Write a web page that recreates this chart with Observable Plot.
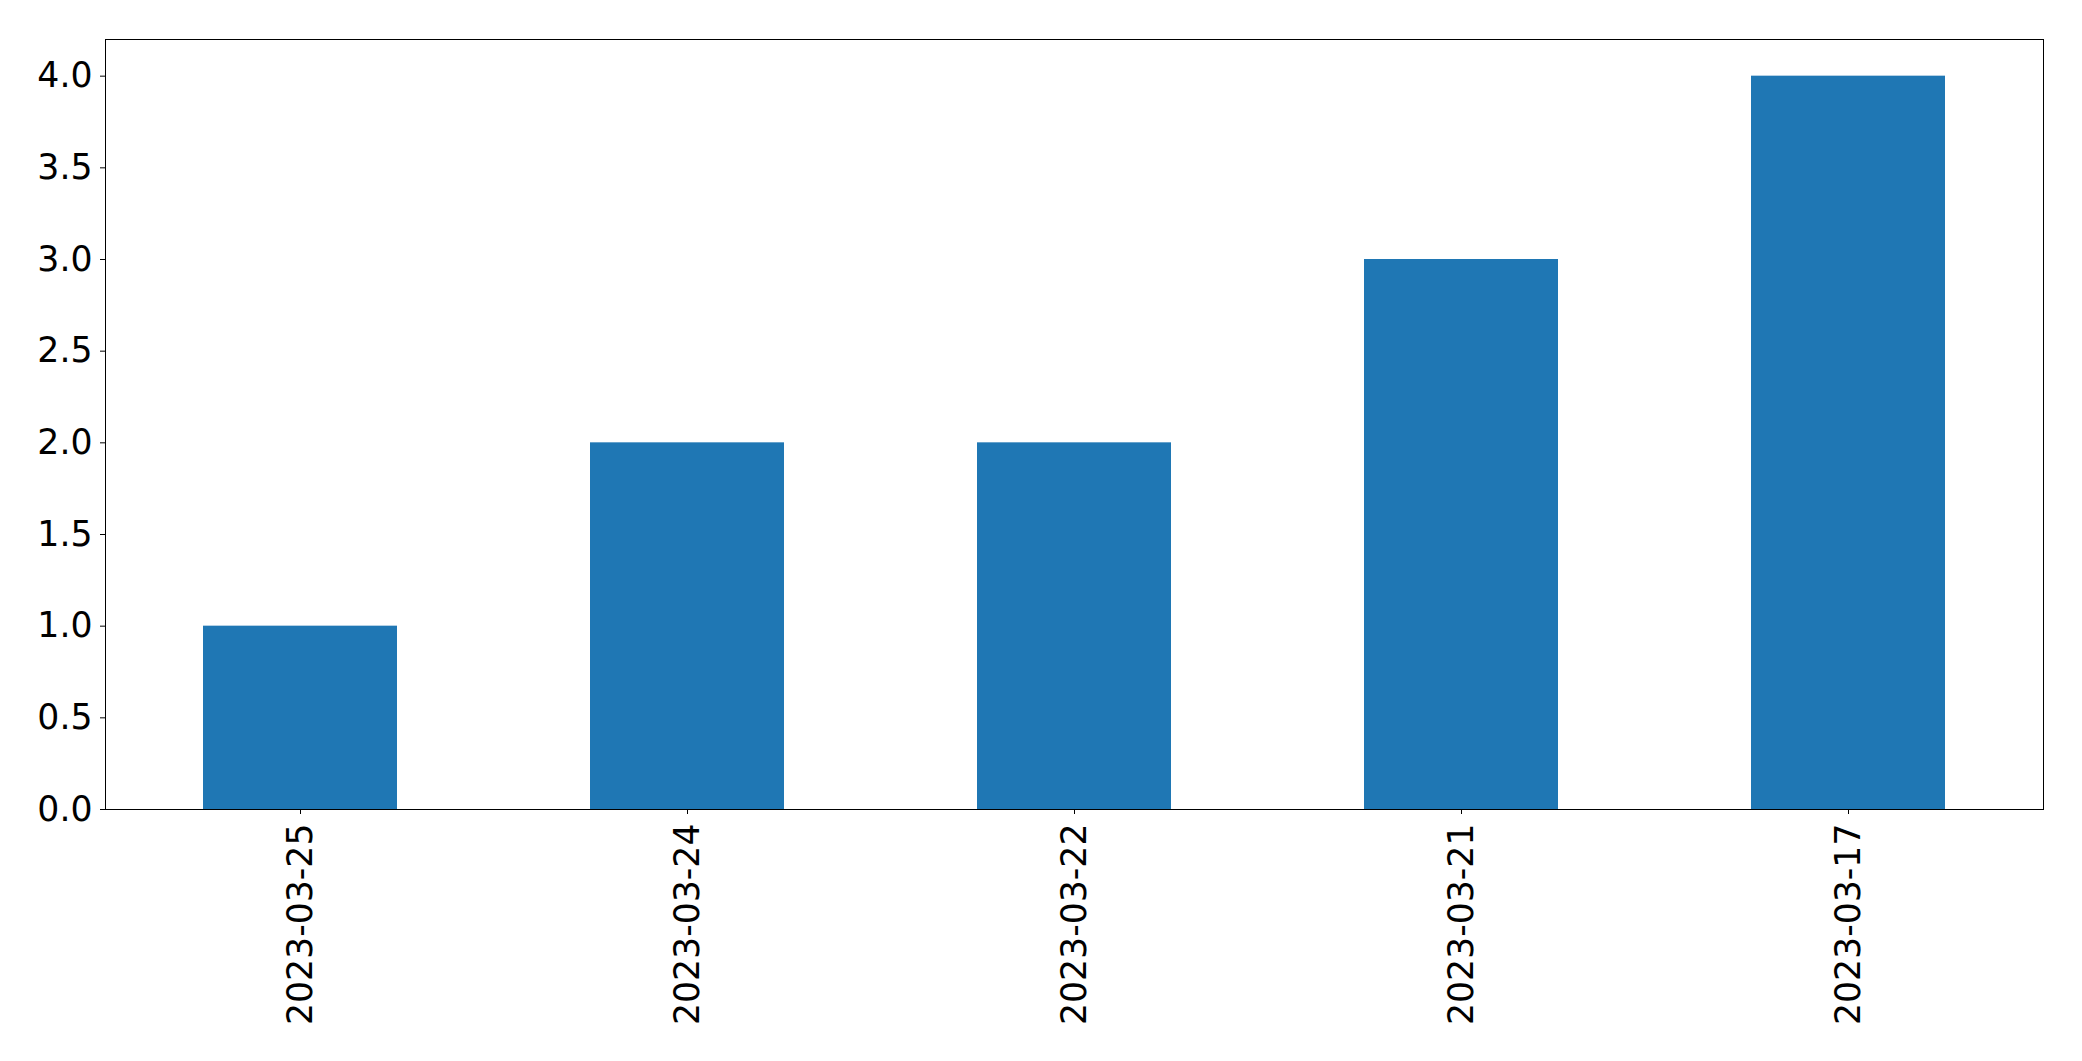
<!DOCTYPE html>
<html>
<head>
<meta charset="utf-8">
<script src="https://cdn.jsdelivr.net/npm/d3@7"></script>
<script src="https://cdn.jsdelivr.net/npm/@observablehq/plot@0.6"></script>
<style>
  html, body { margin: 0; padding: 0; background: #fff; }
  #chart svg { display: block; }
</style>
</head>
<body>
<div id="chart"></div>
<script>
const dates = ["2023-03-25", "2023-03-24", "2023-03-22", "2023-03-21", "2023-03-17"];
const counts = [1, 2, 2, 3, 4];
const yTicks = [0, 0.5, 1, 1.5, 2, 2.5, 3, 3.5, 4];

const data = dates.map((d, i) => ({date: d, count: counts[i]}));

const chart = Plot.plot({
  width: 2082,
  height: 1061,
  marginLeft: 105,
  marginRight: 39,
  marginTop: 39,
  marginBottom: 252,
  style: {fontFamily: "DejaVu Sans", fontSize: "34.7px", color: "#000", background: "#fff"},
  x: {domain: dates, paddingInner: 0.5, paddingOuter: 0.25, label: null},
  y: {domain: [0, 4.2], label: null},
  marks: [
    Plot.barY(data, {x: "date", y: "count", fill: "#1f77b4"}),
    Plot.axisY({ticks: yTicks, tickFormat: d3.format(".1f"), tickSize: 5, tickPadding: 8, label: null, fontSize: 34.7, strokeWidth: 1}),
    Plot.axisX({tickRotate: -90, tickSize: 5, tickPadding: 9, label: null, fontSize: 34.7, strokeWidth: 1}),
    Plot.frame({stroke: "#000", strokeWidth: 1})
  ]
});
document.getElementById("chart").appendChild(chart);
</script>
</body>
</html>
